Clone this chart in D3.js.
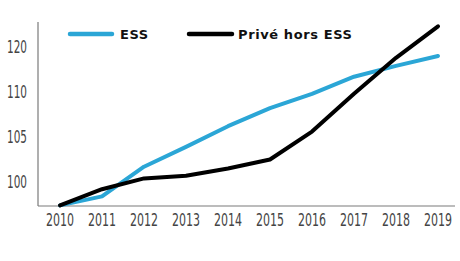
<!DOCTYPE html>
<html>
<head>
<meta charset="utf-8">
<script src="https://cdn.jsdelivr.net/npm/d3@7"></script>
<style>
  body { margin: 0; background: #fff; }
  svg { display: block; }
</style>
</head>
<body>
<div id="chart"></div>
<script>
// values
const years = [2010, 2011, 2012, 2013, 2014, 2015, 2016, 2017, 2018, 2019];
const essValues = [97.4, 98.4, 101.7, 103.9, 106.2, 108.2, 109.8, 111.7, 112.9, 114.0];
const priveValues = [97.4, 99.2, 100.4, 100.7, 101.5, 102.5, 105.6, 109.8, 113.8, 117.3];
const yTicks = [100, 105, 110, 115];
const yTickLabels = ["100", "105", "110", "120"]; // as printed on the original
const seriesNames = ["ESS", "Privé hors ESS"];
const seriesColors = ["#2ba6d6", "#000000"];

const width = 460, height = 261;

const svg = d3.select("#chart")
  .append("svg")
  .attr("width", width)
  .attr("height", height);

const x = d3.scaleLinear()
  .domain([years[0], years[years.length - 1]])
  .range([60, 438]);

const y = d3.scaleLinear()
  .domain([100, 115])
  .range([182, 47]);

const axisX = 38, axisY = 206;

// axes lines
svg.append("line")
  .attr("x1", axisX).attr("x2", axisX)
  .attr("y1", 22).attr("y2", axisY)
  .attr("stroke", "#7a7a7a")
  .attr("stroke-width", 1.2);

svg.append("line")
  .attr("x1", axisX).attr("x2", 455)
  .attr("y1", axisY).attr("y2", axisY)
  .attr("stroke", "#7a7a7a")
  .attr("stroke-width", 1.2);

const labelFont = "'Liberation Sans Narrow', 'DejaVu Sans Condensed', sans-serif";

// y tick labels (narrow glyphs, squeezed to the original width)
svg.selectAll(".ylab")
  .data(yTicks)
  .enter()
  .append("text")
  .attr("class", "ylab")
  .attr("x", 27)
  .attr("y", (d) => y(d))
  .attr("dy", "0.36em")
  .attr("text-anchor", "end")
  .attr("font-family", labelFont)
  .attr("font-size", "17.5px")
  .attr("textLength", 20)
  .attr("lengthAdjust", "spacingAndGlyphs")
  .attr("fill", "#444")
  .text((d, i) => yTickLabels[i]);

// x tick labels
svg.selectAll(".xlab")
  .data(years)
  .enter()
  .append("text")
  .attr("class", "xlab")
  .attr("x", (d) => x(d))
  .attr("y", 220)
  .attr("dy", "0.36em")
  .attr("text-anchor", "middle")
  .attr("font-family", labelFont)
  .attr("font-size", "17.5px")
  .attr("textLength", 28)
  .attr("lengthAdjust", "spacingAndGlyphs")
  .attr("fill", "#444")
  .text((d) => d);

const line = d3.line()
  .x((d, i) => x(years[i]))
  .y((d) => y(d));

[essValues, priveValues].forEach((vals, i) => {
  svg.append("path")
    .datum(vals)
    .attr("fill", "none")
    .attr("stroke", seriesColors[i])
    .attr("stroke-width", 4)
    .attr("stroke-linejoin", "round")
    .attr("stroke-linecap", "round")
    .attr("d", line);
});

// legend
const legendPos = [{ x1: 70, x2: 112, tx: 120 }, { x1: 189, x2: 232, tx: 238 }];
legendPos.forEach((p, i) => {
  svg.append("line")
    .attr("x1", p.x1).attr("x2", p.x2)
    .attr("y1", 34).attr("y2", 34)
    .attr("stroke", seriesColors[i])
    .attr("stroke-width", 4.5)
    .attr("stroke-linecap", "round");
  svg.append("text")
    .attr("x", p.tx)
    .attr("y", 34)
    .attr("dy", "0.36em")
    .attr("font-family", "'DejaVu Sans', sans-serif")
    .attr("font-weight", "bold")
    .attr("font-size", "13px")
    .attr("letter-spacing", "0.6px")
    .attr("fill", "#111")
    .text(seriesNames[i]);
});
</script>
</body>
</html>
